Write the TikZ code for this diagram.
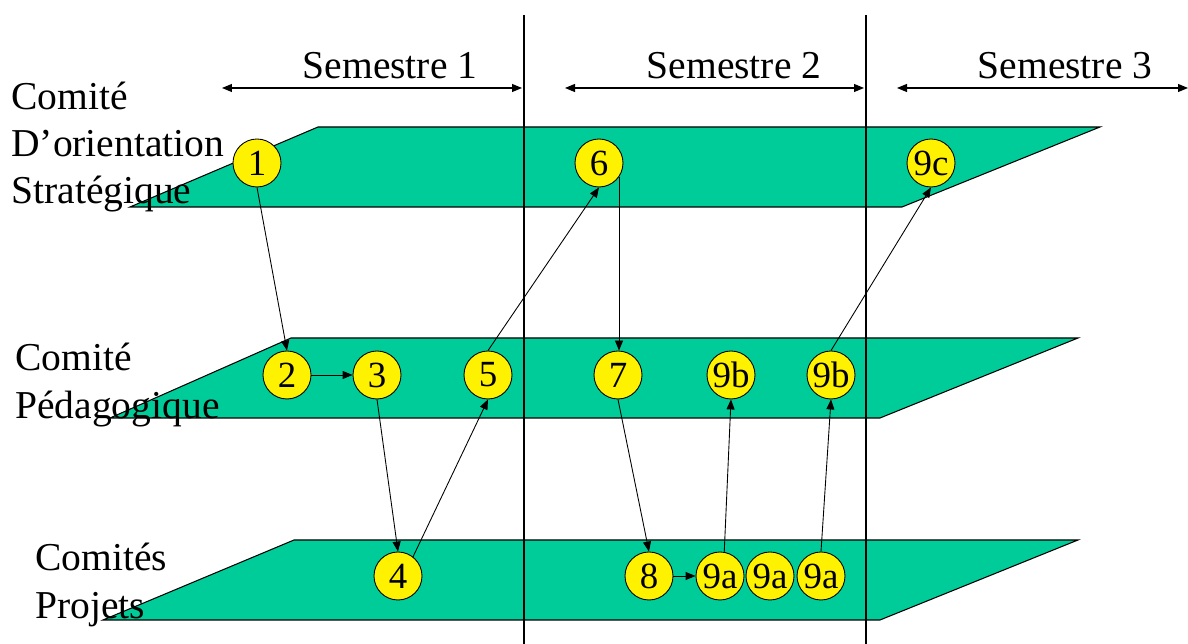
\documentclass[tikz,border=0pt]{standalone}
\usepackage{fontspec}
\setmainfont{Liberation Serif}
\usepackage{xcolor}
\usetikzlibrary{arrows.meta}
\definecolor{planegreen}{RGB}{0,204,153}

\begin{document}
\begin{tikzpicture}[
  x=0.02cm, y=-0.02cm,
  plane/.style={fill=planegreen, draw=black, line width=0.6pt},
  divider/.style={draw=black, line width=0.7pt},
  num/.style={circle, draw=black, fill=yellow, line width=0.5pt, minimum size=0.96cm, inner sep=0pt, font=\fontsize{21}{24}\selectfont},
  lbl/.style={align=left, inner sep=0pt, anchor=west, font=\fontsize{22.5}{27}\selectfont},
  sem/.style={anchor=base, inner sep=0pt, font=\fontsize{22.5}{27}\selectfont},
  arr/.style={-{Triangle[length=2mm,width=1.6mm]}, line width=0.5pt},
  period/.style={{Triangle[length=2mm,width=1.6mm]}-{Triangle[length=2mm,width=1.6mm]}, line width=0.6pt}
]
\useasboundingbox (0,0) rectangle (1188,644);

% the three levels
\filldraw[plane] (130,207) -- (318,127) -- (1100,127) -- (902,207) -- cycle;
\filldraw[plane] (110,418) -- (291,338) -- (1078,338) -- (880,418) -- cycle;
\filldraw[plane] (103,620) -- (294,540) -- (1078,540) -- (880,620) -- cycle;

\draw[divider] (524,15) -- (524,644);
\draw[divider] (866,15) -- (866,644);

\node[lbl] (cos) at (11,147) {Comité\\D’orientation\\Stratégique};
\node[lbl] (cp) at (15,385) {Comité\\Pédagogique};
\node[lbl] (cpr) at (35,585) {Comités\\Projets};

% semesters
\coordinate (s1a) at (222,88);
\coordinate (s1b) at (522,88);
\coordinate (s2a) at (565,88);
\coordinate (s2b) at (864,88);
\coordinate (s3a) at (897,88);
\coordinate (s3b) at (1188,88);
\draw[period] (s1a) -- (s1b);
\draw[period] (s2a) -- (s2b);
\draw[period] (s3a) -- (s3b);
\node[sem] (t1) at (390,79) {Semestre 1};
\node[sem] (t2) at (734,79) {Semestre 2};
\node[sem] (t3) at (1065,79) {Semestre 3};

\node[num] (n1) at (257,163) {1};
\node[num] (n6) at (599,163) {6};
\node[num] (n9c) at (931,163) {9c};
\node[num] (n2) at (287,375) {2};
\node[num] (n3) at (377,375) {3};
\node[num] (n5) at (488,375) {5};
\node[num] (n7) at (618,375) {7};
\node[num] (n9b1) at (731,375) {9b};
\node[num] (n9b2) at (831,375) {9b};
\node[num] (n4) at (398,576) {4};
\node[num] (n8) at (649,576) {8};
\node[num] (n9a1) at (720,576) {9a};
\node[num] (n9a2) at (770,576) {9a};
\node[num] (n9a3) at (821,576) {9a};

\draw[arr] (n1.south) -- (n2.north);
\draw[arr] (n2) -- (n3);
\draw[arr] (n3.south) -- (n4.north);
\draw[arr] (n4.52) -- (n5.south);
\draw[arr] (n5.north) -- (n6.south);
\draw[arr] (n6.-35) -- (n6.-35 |- n7.north);
\draw[arr] (n7.south) -- (n8.north);
\draw[arr] (n8) -- (n9a1);
\draw[arr] (n9a1.80) -- (n9b1.south);
\draw[arr] (n9a3.north) -- (n9b2.south);
\draw[arr] (n9b2.north) -- (n9c.south);

\end{tikzpicture}
\end{document}
